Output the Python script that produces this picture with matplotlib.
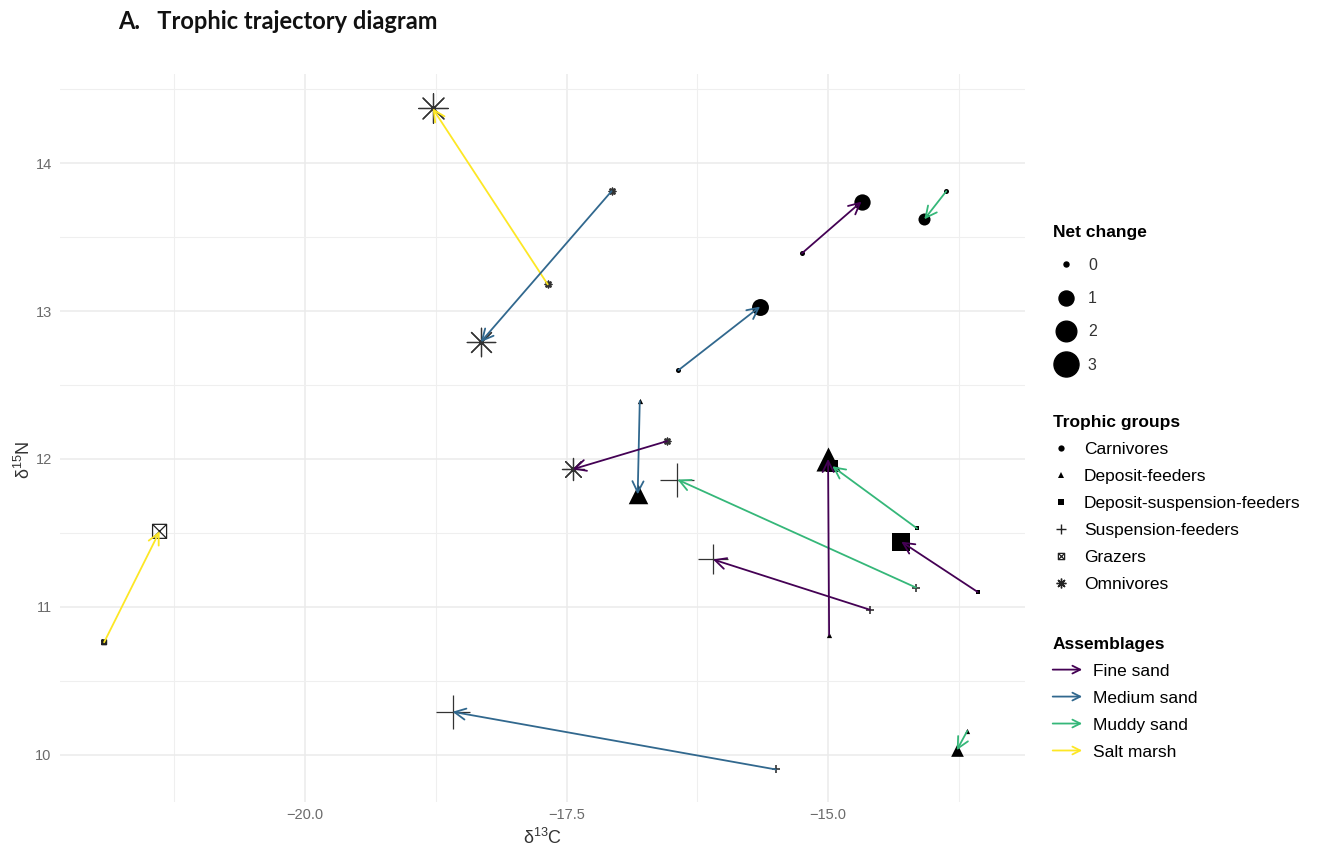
import matplotlib
matplotlib.use("Agg")
import matplotlib.pyplot as plt
import numpy as np
from matplotlib.lines import Line2D
from matplotlib.patches import FancyArrowPatch
from matplotlib.legend_handler import HandlerBase
from matplotlib.path import Path

plt.rcParams['font.family'] = ['Liberation Sans', 'DejaVu Sans']
plt.rcParams['mathtext.default'] = 'regular'

# one trajectory per (assemblage, trophic group)
assemblage = ['Salt marsh', 'Medium sand', 'Fine sand', 'Muddy sand', 'Medium sand',
              'Medium sand', 'Fine sand', 'Muddy sand', 'Fine sand', 'Fine sand',
              'Muddy sand', 'Fine sand', 'Salt marsh', 'Medium sand', 'Muddy sand']
trophic = ['Omnivores', 'Omnivores', 'Carnivores', 'Carnivores', 'Carnivores',
           'Deposit-feeders', 'Omnivores', 'Suspension-feeders', 'Suspension-feeders', 'Deposit-feeders',
           'Deposit-suspension-feeders', 'Deposit-suspension-feeders', 'Grazers', 'Suspension-feeders', 'Deposit-feeders']
x_start = [-17.68, -17.07, -15.25, -13.87, -16.43, -16.80, -16.54, -14.16, -14.60, -14.99, -14.15, -13.57, -21.92, -15.50, -13.67]
y_start = [13.18, 13.81, 13.39, 13.81, 12.60, 12.39, 12.12, 11.13, 10.98, 10.81, 11.53, 11.10, 10.76, 9.90, 10.16]
x_end = [-18.78, -18.32, -14.68, -14.08, -15.65, -16.82, -17.44, -16.44, -16.10, -15.00, -14.96, -14.30, -21.39, -18.59, -13.77]
y_end = [14.37, 12.79, 13.74, 13.62, 13.03, 11.76, 11.93, 11.86, 11.32, 12.00, 11.95, 11.44, 11.51, 10.29, 10.03]
net_change = [2.6, 2.4, 1.2, 0.6, 1.3, 1.6, 1.4, 2.8, 2.0, 2.5, 0.8, 1.6, 1.1, 2.8, 0.6]

assemblages = ['Fine sand', 'Medium sand', 'Muddy sand', 'Salt marsh']
assemblage_colors = ['#440154', '#31688E', '#35B779', '#FDE725']
groups = ['Carnivores', 'Deposit-feeders', 'Deposit-suspension-feeders', 'Suspension-feeders', 'Grazers', 'Omnivores']
size_breaks = [0, 1, 2, 3]

# square with a cross inside (ggplot shape 7)
box_x = Path([(-1, -1), (1, -1), (1, 1), (-1, 1), (-1, -1), (1, 1), (-1, 1), (1, -1)],
             [Path.MOVETO, Path.LINETO, Path.LINETO, Path.LINETO, Path.CLOSEPOLY,
              Path.LINETO, Path.MOVETO, Path.LINETO])
markers = {'Carnivores': 'o', 'Deposit-feeders': '^', 'Deposit-suspension-feeders': 's',
           'Suspension-feeders': '+', 'Grazers': box_x, 'Omnivores': (8, 2, 0)}
shape_scale = {'Carnivores': 1.0, 'Deposit-feeders': 1.1, 'Deposit-suspension-feeders': 0.9,
               'Suspension-feeders': 2.0, 'Grazers': 0.8, 'Omnivores': 1.6}
col_of = dict(zip(assemblages, assemblage_colors))


def area(v):
    return 13 + 104 * v


def draw_point(x, y, g, s, lw):
    if g == 'Grazers':
        ax.scatter(x, y, s=s, marker=markers[g], facecolors='none', edgecolors='#222222',
                   lw=lw, zorder=3)
    elif g in ('Suspension-feeders', 'Omnivores'):
        ax.scatter(x, y, s=s, marker=markers[g], c='#333333', lw=lw, zorder=3)
    else:
        ax.scatter(x, y, s=s, marker=markers[g], c='black', lw=0, zorder=3)


fig = plt.figure(figsize=(13.33, 8.52), dpi=100)
ax = fig.add_axes([0.045, 0.0587, 0.724, 0.854])

for i in range(len(x_start)):
    g = trophic[i]
    sc = shape_scale[g]
    draw_point(x_start[i], y_start[i], g, area(0) * sc, 1.2)
    draw_point(x_end[i], y_end[i], g, area(net_change[i]) * sc, 0.9)
    ax.annotate('', xy=(x_end[i], y_end[i]), xytext=(x_start[i], y_start[i]),
                arrowprops=dict(arrowstyle='->', color=col_of[assemblage[i]], lw=1.3,
                                shrinkA=0, shrinkB=0, mutation_scale=20), zorder=4)

ax.set_xlim(-22.342, -13.117)
ax.set_ylim(9.68, 14.60)
ax.set_xticks([-20.0, -17.5, -15.0])
ax.set_xticklabels(['\u221220.0', '\u221217.5', '\u221215.0'])
ax.set_yticks([10, 11, 12, 13, 14])
ax.set_xticks([-21.25, -18.75, -16.25, -13.75], minor=True)
ax.set_yticks([10.5, 11.5, 12.5, 13.5, 14.5], minor=True)
ax.grid(which='major', color='#EBEBEB', lw=1.1)
ax.grid(which='minor', color='#EFEFEF', lw=0.8)
ax.set_axisbelow(True)
for s in ax.spines.values():
    s.set_visible(False)
ax.tick_params(which='both', length=0, labelsize=10.5, labelcolor='#6b6b6b')
ax.tick_params(axis='y', pad=6)
ax.tick_params(axis='x', pad=4)
ax.set_xlabel('\u03b4$^{13}$C', fontsize=13, color='#333333')
ax.set_ylabel('\u03b4$^{15}$N', fontsize=13, color='#333333')
ax.xaxis.set_label_coords(0.5, -0.035)
ax.yaxis.set_label_coords(-0.027, 0.47)

fig.text(0.0885, 0.975, 'A.   Trophic trajectory diagram', fontsize=17, fontweight='bold',
         family='Lato', va='center', ha='left', color='#111111')


class ArrowHandler(HandlerBase):
    def create_artists(self, legend, orig, xd, yd, w, h, fontsize, trans):
        a = FancyArrowPatch((xd, yd + h / 2), (xd + w, yd + h / 2), arrowstyle='->',
                            mutation_scale=14, color=orig.get_color(), lw=1.3,
                            shrinkA=0, shrinkB=0, transform=trans)
        return [a]


title_fp = {'weight': 'bold', 'size': 12.5}

size_handles = [Line2D([], [], ls='none', marker='o', color='black',
                       markersize=np.sqrt(area(v))) for v in size_breaks]
leg1 = fig.legend(size_handles, [str(v) for v in size_breaks], title='Net change',
                  loc='upper left', bbox_to_anchor=(0.779, 0.753), frameon=False,
                  fontsize=11.5, title_fontproperties=title_fp, alignment='left',
                  labelspacing=1.14, handlelength=1.6, handletextpad=0.6, labelcolor='#333333')

group_handles = []
for g in groups:
    if g == 'Grazers':
        group_handles.append(Line2D([], [], ls='none', marker=markers[g], color='#222222',
                                    markerfacecolor='none', markersize=4.5, mew=0.9))
    elif g in ('Suspension-feeders', 'Omnivores'):
        group_handles.append(Line2D([], [], ls='none', marker=markers[g], color='#222222',
                                    markersize=7, mew=1.0))
    else:
        group_handles.append(Line2D([], [], ls='none', marker=markers[g], color='black',
                                    markersize=4.5, mew=0))
leg2 = fig.legend(group_handles, groups, title='Trophic groups', loc='upper left',
                  bbox_to_anchor=(0.778, 0.531), frameon=False, fontsize=12.5,
                  title_fontproperties=title_fp, alignment='left', labelspacing=0.68,
                  handlelength=1.0, handletextpad=0.8)

arrow_handles = [Line2D([], [], color=c) for c in assemblage_colors]
leg3 = fig.legend(arrow_handles, assemblages, title='Assemblages', loc='upper left',
                  bbox_to_anchor=(0.778, 0.271), frameon=False, fontsize=12.5,
                  title_fontproperties=title_fp, alignment='left', labelspacing=0.68,
                  handlelength=1.7, handletextpad=0.6,
                  handler_map={Line2D: ArrowHandler()})

fig.savefig('out.png', dpi=100, facecolor='white')
